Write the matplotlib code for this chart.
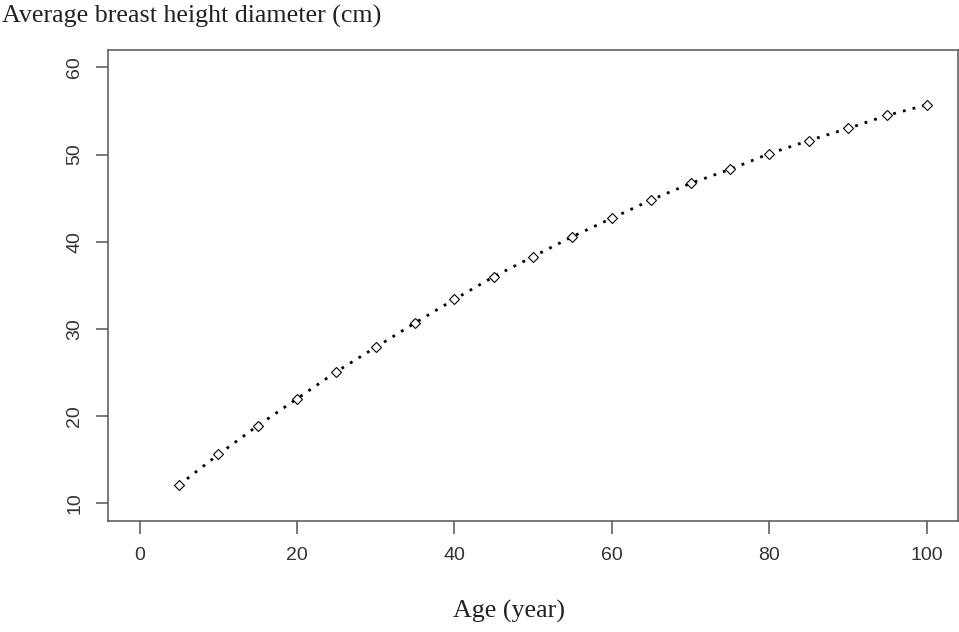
import matplotlib
matplotlib.use('Agg')
import matplotlib.pyplot as plt

# stand age (years) and mean DBH (cm)
ages = [5, 10, 15, 20, 25, 30, 35, 40, 45, 50, 55, 60, 65, 70, 75, 80, 85, 90, 95, 100]
dbh = [12.1, 15.6, 18.9, 22.0, 25.1, 27.9, 30.7, 33.4, 36.0, 38.3,
       40.6, 42.7, 44.8, 46.7, 48.3, 50.1, 51.6, 53.0, 54.5, 55.7]
xticks = [0, 20, 40, 60, 80, 100]
yticks = [10, 20, 30, 40, 50, 60]

axcol = '#555555'

fig = plt.figure(figsize=(9.59, 6.32), dpi=100)
ax = fig.add_axes([0.1129, 0.1761, 0.8861, 0.7448])

ax.plot(ages, dbh, color='black', lw=2, linestyle=(0, (1, 2.6)),
        dash_capstyle='butt', zorder=2)
ax.plot(ages, dbh, linestyle='none', marker='D', markersize=5,
        mfc='white', mec='black', mew=0.8, zorder=3)

ax.set_xlim(-4, 104)
ax.set_ylim(8, 62)
ax.set_xticks(xticks)
ax.set_yticks(yticks)
ax.set_xticklabels([str(t) for t in xticks], family='Liberation Sans', fontsize=14, color='#333333')
ax.set_yticklabels([str(t) for t in yticks], family='Liberation Sans', fontsize=14, color='#333333',
                   rotation=90, va='center')
ax.tick_params(length=9, width=1.1, color=axcol)
ax.tick_params(axis='x', pad=10)
ax.tick_params(axis='y', pad=9)
for s in ax.spines.values():
    s.set_color(axcol)
    s.set_linewidth(1.1)

fig.text(0.002, 0.993, 'Average breast height diameter (cm)', family='Liberation Serif',
         fontsize=18.7, va='top', ha='left', color='#222222')
fig.text(509 / 959, 0.032, 'Age (year)', family='Liberation Serif',
         fontsize=18.7, va='center', ha='center', color='#222222')

fig.savefig('out.png', dpi=100)
